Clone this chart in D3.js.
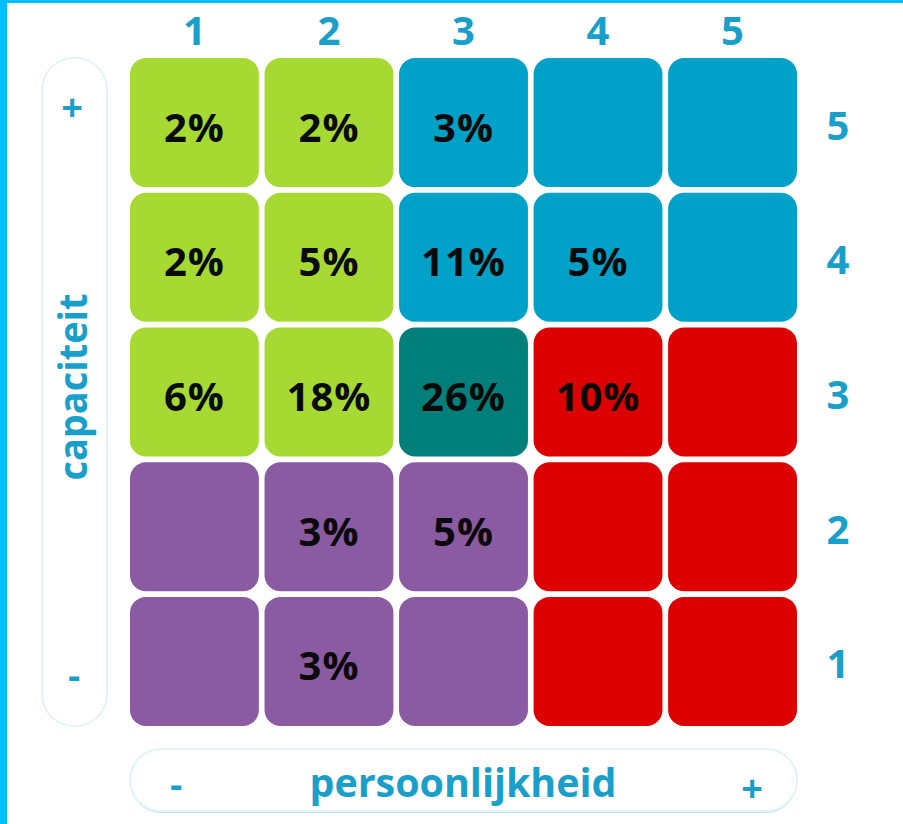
<!DOCTYPE html>
<html>
<head>
  <meta charset="utf-8">
  <title>capaciteit x persoonlijkheid</title>
  <style>
    body { margin: 0; background: #fff; }
    svg { display: block; font-family: "Open Sans", "Noto Sans", sans-serif; }
  </style>
</head>
<body>
  <div class="chart"></div>
  <script src="https://cdn.jsdelivr.net/npm/d3@7"></script>
  <script>
    // persoonlijkheid (columns) and capaciteit (rows, top = 5)
    var cols = [1, 2, 3, 4, 5];
    var rows = [5, 4, 3, 2, 1];

    // percentage per cell, one array per capaciteit row (top to bottom)
    var row5 = ["2%", "2%", "3%", "", ""];
    var row4 = ["2%", "5%", "11%", "5%", ""];
    var row3 = ["6%", "18%", "26%", "10%", ""];
    var row2 = ["", "3%", "5%", "", ""];
    var row1 = ["", "3%", "", "", ""];

    // group of each cell
    var group5 = ["g", "g", "b", "b", "b"];
    var group4 = ["g", "g", "b", "b", "b"];
    var group3 = ["g", "g", "t", "r", "r"];
    var group2 = ["p", "p", "p", "r", "r"];
    var group1 = ["p", "p", "p", "r", "r"];

    var labels = [row5, row4, row3, row2, row1];
    var groups = [group5, group4, group3, group2, group1];

    var color = d3.scaleOrdinal()
      .domain(["g", "b", "t", "r", "p"])
      .range(["#a6d932", "#00a1c9", "#007f7b", "#dc0000", "#8a5aa2"]);

    var blue = "#1a9fca";
    var width = 903, height = 824;

    var svg = d3.select(".chart").append("svg")
      .attr("width", width)
      .attr("height", height);

    // frame edges
    svg.append("rect").attr("x", 0).attr("y", 0).attr("width", 7).attr("height", height).attr("fill", "#00bfff");
    svg.append("rect").attr("x", 0).attr("y", 0).attr("width", width).attr("height", 3).attr("fill", "#00bfff");

    var x = d3.scaleBand().domain(cols).range([130, 797]).paddingInner(0.042);
    var y = d3.scaleBand().domain(rows).range([58, 726]).paddingInner(0.042);

    var cells = [];
    rows.forEach(function (r, i) {
      cols.forEach(function (c, j) {
        cells.push({ row: r, col: c, label: labels[i][j], group: groups[i][j] });
      });
    });

    var cell = svg.append("g").attr("class", "cells")
      .selectAll("g")
      .data(cells)
      .enter().append("g");

    cell.append("rect")
      .attr("x", function (d) { return x(d.col); })
      .attr("y", function (d) { return y(d.row); })
      .attr("width", x.bandwidth())
      .attr("height", y.bandwidth())
      .attr("rx", 16)
      .attr("fill", function (d) { return color(d.group); });

    cell.append("text")
      .attr("x", function (d) { return x(d.col) + x.bandwidth() / 2; })
      .attr("y", function (d) { return y(d.row) + y.bandwidth() / 2 + 19; })
      .attr("text-anchor", "middle")
      .style("font-size", "40px")
      .style("font-weight", "bold")
      .style("letter-spacing", "1px")
      .style("fill", "#0a0a0a")
      .text(function (d) { return d.label; });

    // column numbers on top
    svg.append("g").selectAll("text")
      .data(cols)
      .enter().append("text")
      .attr("x", function (d) { return x(d) + x.bandwidth() / 2; })
      .attr("y", 45)
      .attr("text-anchor", "middle")
      .style("font-size", "40px")
      .style("font-weight", "bold")
      .style("fill", blue)
      .text(function (d) { return d; });

    // row numbers on the right
    svg.append("g").selectAll("text")
      .data(rows)
      .enter().append("text")
      .attr("x", 838)
      .attr("y", function (d) { return y(d) + y.bandwidth() / 2 + 17; })
      .attr("text-anchor", "middle")
      .style("font-size", "40px")
      .style("font-weight", "bold")
      .style("fill", blue)
      .text(function (d) { return d; });

    // capaciteit pill
    svg.append("rect")
      .attr("x", 42).attr("y", 58).attr("width", 65).attr("height", 668).attr("rx", 32)
      .attr("fill", "#fff").attr("stroke", "#e2f4fa").attr("stroke-width", 2);
    svg.append("text")
      .attr("x", 72).attr("y", 121).attr("text-anchor", "middle")
      .style("font-size", "38px").style("font-weight", "bold").style("fill", blue)
      .text("+");
    svg.append("text")
      .attr("x", 74).attr("y", 689).attr("text-anchor", "middle")
      .style("font-size", "38px").style("font-weight", "bold").style("fill", blue)
      .text("-");
    svg.append("text")
      .attr("transform", "translate(87,387) rotate(-90)")
      .attr("text-anchor", "middle")
      .attr("textLength", 187).attr("lengthAdjust", "spacingAndGlyphs")
      .style("font-size", "40px").style("font-weight", "bold").style("fill", blue)
      .text("capaciteit");

    // persoonlijkheid pill
    svg.append("rect")
      .attr("x", 130).attr("y", 751).attr("width", 667).attr("height", 62).attr("rx", 31)
      .attr("fill", "#bfe6f3");
    svg.append("rect")
      .attr("x", 130).attr("y", 749).attr("width", 667).attr("height", 62).attr("rx", 31)
      .attr("fill", "#fff").attr("stroke", "#e2f4fa").attr("stroke-width", 2);
    svg.append("text")
      .attr("x", 176).attr("y", 798).attr("text-anchor", "middle")
      .style("font-size", "38px").style("font-weight", "bold").style("fill", blue)
      .text("-");
    svg.append("text")
      .attr("x", 752).attr("y", 802).attr("text-anchor", "middle")
      .style("font-size", "38px").style("font-weight", "bold").style("fill", blue)
      .text("+");
    svg.append("text")
      .attr("x", 463).attr("y", 797).attr("text-anchor", "middle")
      .attr("textLength", 307).attr("lengthAdjust", "spacingAndGlyphs")
      .style("font-size", "40px").style("font-weight", "bold").style("fill", blue)
      .text("persoonlijkheid");
  </script>
</body>
</html>
